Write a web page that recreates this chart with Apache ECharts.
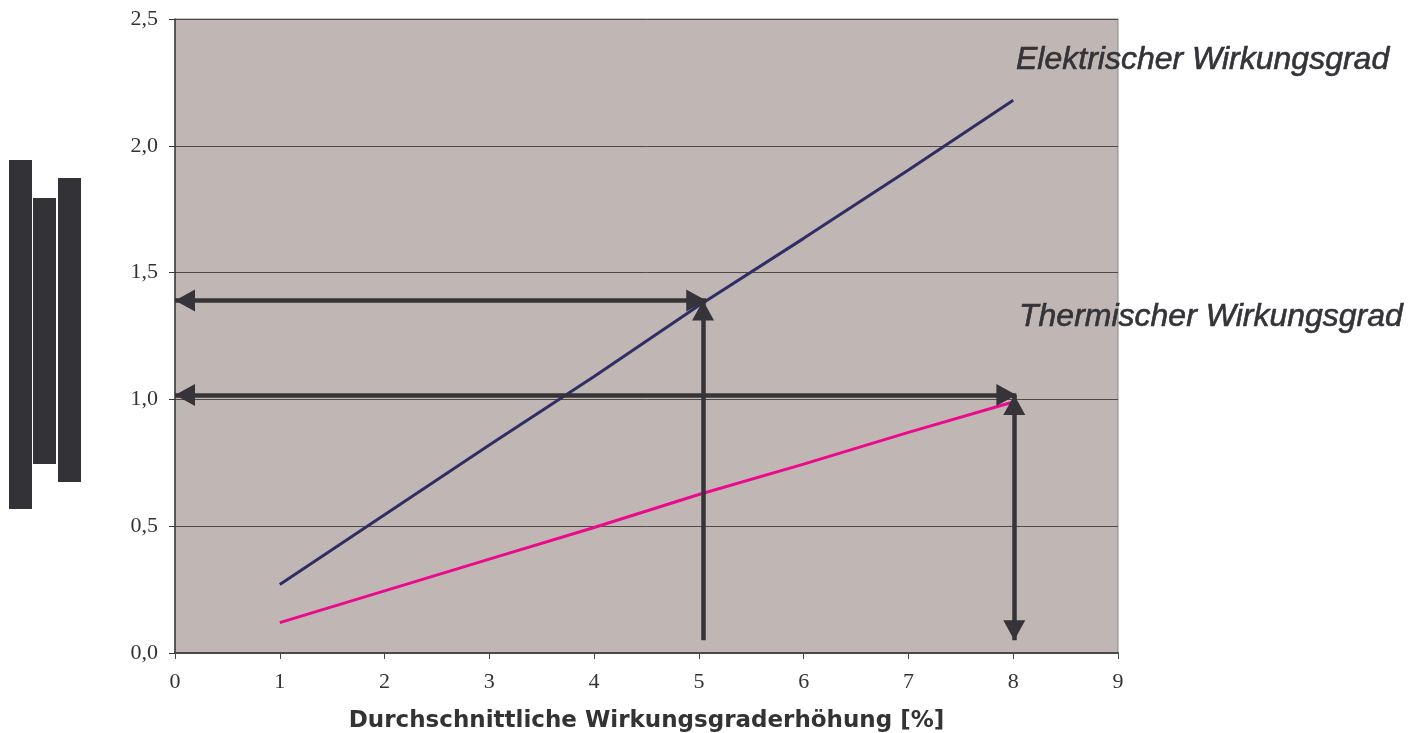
<!DOCTYPE html>
<html>
<head>
<meta charset="utf-8">
<script src="https://cdn.jsdelivr.net/npm/echarts@6/dist/echarts.min.js"></script>
<style>html,body{margin:0;padding:0;background:#fff;}#c{width:1408px;height:733px;}</style>
</head>
<body>
<div id="c"></div>
<script>
// ---- data ----
const xValues = [1, 2, 3, 4, 5, 6, 7, 8];
const elektrisch = [0.27, 0.545, 0.82, 1.09, 1.37, 1.635, 1.905, 2.18];
const thermisch = [0.12, 0.245, 0.37, 0.495, 0.625, 0.745, 0.87, 0.99];
const xTicks = [0, 1, 2, 3, 4, 5, 6, 7, 8, 9];
const yTicks = [0, 0.5, 1.0, 1.5, 2.0, 2.5];
const seriesNames = ['Elektrischer Wirkungsgrad', 'Thermischer Wirkungsgrad'];
const xTitle = 'Durchschnittliche Wirkungsgraderhöhung [%]';
// arrows: [from, to, arrowheadAtStart, arrowheadAtEnd]
const arrowH1 = [[0, 1.39], [5.07, 1.39], true, true];
const arrowH2 = [[0, 1.017], [8.03, 1.017], true, true];
const arrowV1 = [[5.04, 0.05], [5.04, 1.39], false, true];
const arrowV2 = [[8.01, 0.05], [8.01, 1.017], true, true];
const arrows = [arrowH1, arrowH2, arrowV1, arrowV2];

const chart = echarts.init(document.getElementById('c'), null, {renderer: 'canvas'});
const zip = (xs, ys) => xs.map((x, i) => [x, ys[i]]);

const arrowColor = '#363439';
// triangle whose tip sits at the symbol centre (so the tip lands exactly on the end point)
const headPath = 'path://M0,0 M0,20 L11,40 L-11,40 Z';
const markData = arrows.map(a => [
  {coord: a[0], symbol: a[2] ? headPath : 'none'},
  {coord: a[1], symbol: a[3] ? headPath : 'none'}
]);

chart.setOption({
  animation: false,
  backgroundColor: '#ffffff',
  grid: {
    left: 175, right: 290, top: 19, bottom: 80,
    containLabel: false, outerBoundsMode: 'none',
    show: true, backgroundColor: '#C0B7B4', borderColor: '#8E8583', borderWidth: 1
  },
  xAxis: {
    type: 'value', min: 0, max: 9, interval: 1,
    name: xTitle, nameLocation: 'middle', nameGap: 57,
    nameTextStyle: {fontFamily: 'DejaVu Sans', fontWeight: 'bold', fontSize: 23, color: '#333333'},
    axisLine: {show: true, lineStyle: {color: '#4d4848', width: 2}},
    axisTick: {show: true, inside: false, length: 6, lineStyle: {color: '#4d4848'}},
    axisLabel: {fontFamily: 'Liberation Serif', fontSize: 22, color: '#333333', margin: 18,
      formatter: v => String(v)},
    splitLine: {show: false}
  },
  yAxis: {
    type: 'value', min: 0, max: 2.5, interval: 0.5,
    axisLine: {show: true, lineStyle: {color: '#3a3838', width: 1.5}},
    axisTick: {show: true, inside: false, length: 6, lineStyle: {color: '#3a3838'}},
    axisLabel: {fontFamily: 'Liberation Serif', fontSize: 22, color: '#333333', margin: 17,
      formatter: v => v.toFixed(1).replace('.', ',')},
    splitLine: {show: true, lineStyle: {color: '#4f4a4a', width: 1}}
  },
  series: [
    {
      name: seriesNames[0], type: 'line', data: zip(xValues, elektrisch),
      showSymbol: false, symbol: 'none',
      lineStyle: {color: '#2F2F66', width: 3}, z: 3
    },
    {
      name: seriesNames[1], type: 'line', data: zip(xValues, thermisch),
      showSymbol: false, symbol: 'none',
      lineStyle: {color: '#EC0A8C', width: 3}, z: 3
    },
    {
      name: 'arrows', type: 'line', data: [], z: 4,
      markLine: {
        silent: true, animation: false,
        symbolSize: [22, 40],
        label: {show: false},
        lineStyle: {color: arrowColor, width: 4.5, type: 'solid'},
        itemStyle: {color: arrowColor},
        emphasis: {disabled: true},
        data: markData
      }
    }
  ],
  graphic: [
    {type: 'rect', shape: {x: 9, y: 160, width: 23, height: 349}, style: {fill: '#333337'}},
    {type: 'rect', shape: {x: 33, y: 198, width: 23, height: 266}, style: {fill: '#333337'}},
    {type: 'rect', shape: {x: 58, y: 178, width: 23, height: 304}, style: {fill: '#333337'}},
    {type: 'text', x: 1016, y: 60, z: 10, style: {text: seriesNames[0], font: 'italic 32px "Liberation Sans"', fill: '#333338', stroke: '#333338', lineWidth: 0.6, textAlign: 'left', textVerticalAlign: 'middle'}},
    {type: 'text', x: 1019, y: 317, z: 10, style: {text: seriesNames[1], font: 'italic 32px "Liberation Sans"', fill: '#333338', stroke: '#333338', lineWidth: 0.6, textAlign: 'left', textVerticalAlign: 'middle'}}
  ]
});
</script>
</body>
</html>
